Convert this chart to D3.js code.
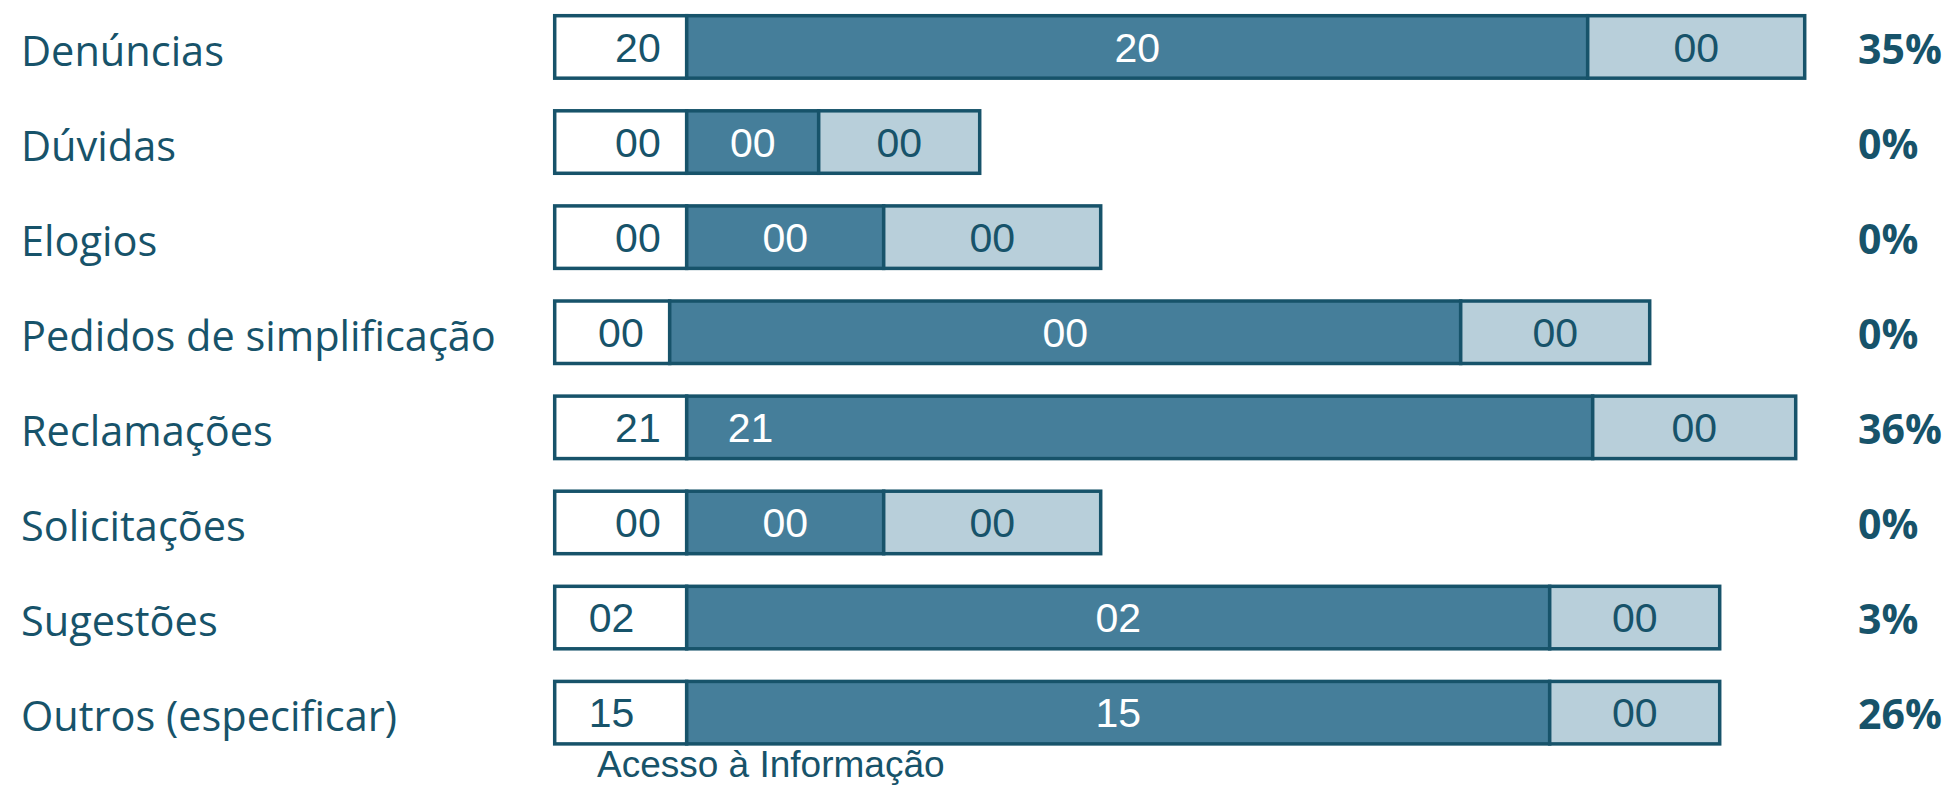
<!DOCTYPE html>
<html>
<head>
<meta charset="utf-8">
<script src="https://cdn.jsdelivr.net/npm/d3@7/dist/d3.min.js"></script>
<style>
  html, body { margin: 0; padding: 0; background: #ffffff; }
  svg { display: block; }
</style>
</head>
<body>
<svg id="chart" width="1950" height="786"></svg>
<script>
// ---------- data ----------
const categories = [
  "Denúncias", "Dúvidas", "Elogios", "Pedidos de simplificação",
  "Reclamações", "Solicitações", "Sugestões", "Outros (especificar)"
];
// segment lengths (chart units)
const whiteWidth = [132, 132, 132, 115, 132, 132, 132, 132];
const darkWidth  = [901, 132, 197, 791, 906, 197, 863, 863];
const lightWidth = [217, 161, 217, 189, 203, 217, 170, 170];
// labels printed in the segments
const whiteLabels = ["20", "00", "00", "00", "21", "00", "02", "15"];
const darkLabels  = ["20", "00", "00", "00", "21", "00", "02", "15"];
const lightLabels = ["00", "00", "00", "00", "00", "00", "00", "00"];
const percentLabels = ["35%", "0%", "0%", "0%", "36%", "0%", "3%", "26%"];
const footerText = "Acesso à Informação";

// ---------- layout / style ----------
const whiteAnchor = ["end", "end", "end", "end", "end", "end", "start", "start"];
const darkAnchor  = ["middle", "middle", "middle", "middle", "start", "middle", "middle", "middle"];
const C = {
  dark: "#457e9a",
  light: "#b8cfda",
  white: "#ffffff",
  stroke: "#17536a",
  text: "#17536a"
};

const svg = d3.select("#chart");

const x = d3.scaleLinear().domain([0, 1000]).range([554.7, 1554.7]);
const y = d3.scaleBand().domain(categories).range([15.7, 743.9]).paddingInner(0.343).paddingOuter(0);

const rows = categories.map((c, i) => {
  const w = whiteWidth[i], d = darkWidth[i], l = lightWidth[i];
  return {
    cat: c, i,
    segs: [
      { key: "white", x0: 0, x1: w, label: whiteLabels[i] },
      { key: "dark", x0: w, x1: w + d, label: darkLabels[i] },
      { key: "light", x0: w + d, x1: w + d + l, label: lightLabels[i] }
    ]
  };
});

const g = svg.append("g");

const rowG = g.selectAll("g.row").data(rows).join("g")
  .attr("class", "row")
  .attr("transform", d => `translate(0,${y(d.cat)})`);

const bh = y.bandwidth();

rowG.selectAll("rect").data(d => d.segs).join("rect")
  .attr("x", s => x(s.x0))
  .attr("width", s => x(s.x1) - x(s.x0))
  .attr("y", 0)
  .attr("height", bh)
  .attr("fill", s => C[s.key])
  .attr("stroke", C.stroke)
  .attr("stroke-width", 3.5);

const numFont = "'Liberation Sans', Arial, sans-serif";
const numSize = 41;
const baseOff = bh / 2 + numSize * 0.716 / 2;

// segment labels
rowG.each(function(d) {
  const gg = d3.select(this);
  const [sw, sd, sl] = d.segs;
  const wa = whiteAnchor[d.i];
  gg.append("text")
    .attr("x", wa === "end" ? x(sw.x1) - 26 : x(sw.x0) + 34)
    .attr("y", baseOff)
    .attr("text-anchor", wa)
    .attr("font-family", numFont).attr("font-size", numSize)
    .attr("fill", C.text)
    .text(sw.label);
  const da = darkAnchor[d.i];
  gg.append("text")
    .attr("x", da === "middle" ? (x(sd.x0) + x(sd.x1)) / 2 : x(sd.x0) + 41)
    .attr("y", baseOff)
    .attr("text-anchor", da)
    .attr("font-family", numFont).attr("font-size", numSize)
    .attr("fill", "#ffffff")
    .text(sd.label);
  gg.append("text")
    .attr("x", (x(sl.x0) + x(sl.x1)) / 2)
    .attr("y", baseOff)
    .attr("text-anchor", "middle")
    .attr("font-family", numFont).attr("font-size", numSize)
    .attr("fill", C.text)
    .text(sl.label);
});

// category labels
rowG.append("text")
  .attr("x", 21)
  .attr("y", bh / 2 + 41 * 0.714 / 2 + 4)
  .attr("font-family", "'Open Sans', 'Noto Sans', sans-serif")
  .attr("font-size", 41.5)
  .attr("fill", C.text)
  .text(d => d.cat);

// percentages
rowG.append("text")
  .attr("x", 1858)
  .attr("y", bh / 2 + 41 * 0.714 / 2 + 2)
  .attr("font-family", "'Open Sans', 'Noto Sans', sans-serif")
  .attr("font-weight", 700)
  .attr("font-size", 41)
  .attr("fill", C.text)
  .text(d => percentLabels[d.i]);

// footer
svg.append("text")
  .attr("x", 597)
  .attr("y", 777)
  .attr("font-family", numFont)
  .attr("font-size", 37)
  .attr("fill", C.text)
  .text(footerText);
</script>
</body>
</html>
